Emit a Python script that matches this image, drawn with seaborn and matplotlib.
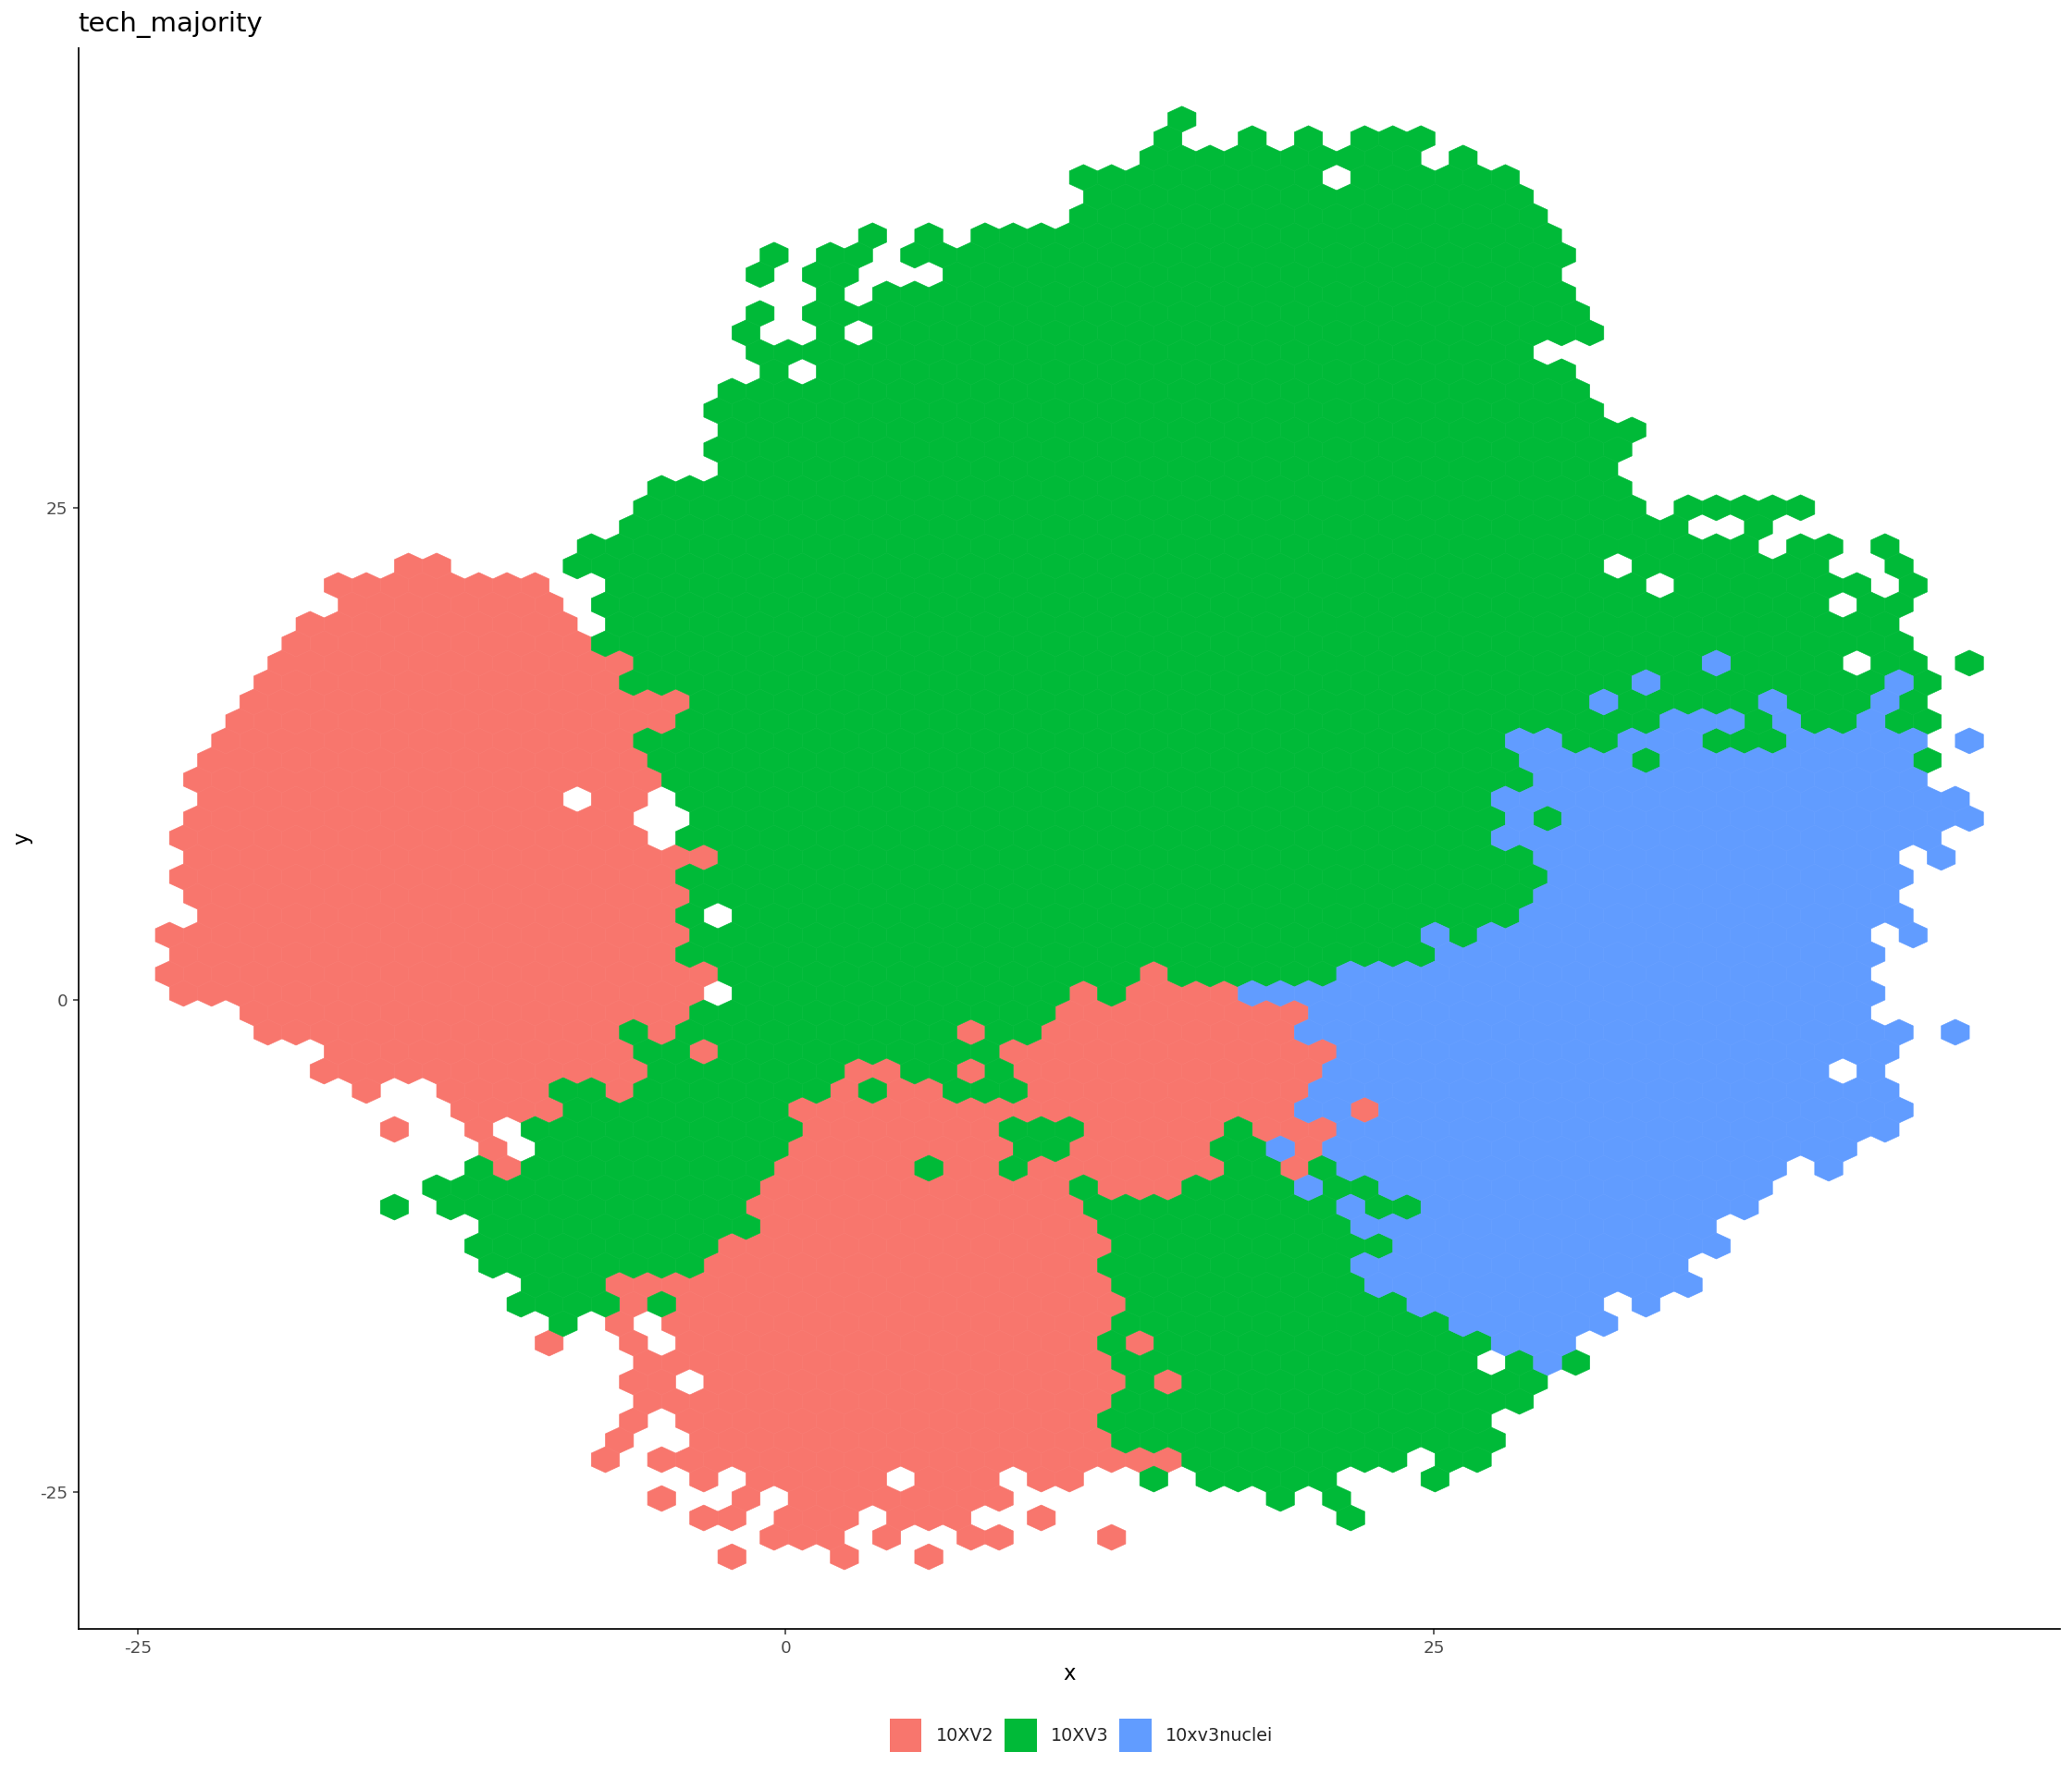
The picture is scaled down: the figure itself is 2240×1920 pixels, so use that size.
import numpy as np
import pandas as pd
import matplotlib
matplotlib.use("Agg")
import matplotlib.pyplot as plt
from matplotlib.patches import Patch
from matplotlib.path import Path
import seaborn as sns

TITLE = "tech_majority"
CATEGORIES = ["10XV2", "10XV3", "10xv3nuclei"]
COLORS = ["#F8766D", "#00BA38", "#619CFF"]
TICKS = [-25, 0, 25]

# occupied hexagon bins: row index -> column runs (first, last)
RUNS_V2 = {
    23: [(9, 10)], 24: [(7, 14)], 25: [(7, 14)], 26: [(6, 15)], 27: [(5, 15)], 28: [(5, 17)],
    29: [(4, 16)], 30: [(4, 19)], 31: [(3, 18)], 32: [(3, 17)], 33: [(2, 17)], 34: [(2, 18)],
    35: [(2, 14), (16, 17)], 36: [(2, 17)], 37: [(1, 17)], 38: [(2, 20)], 39: [(1, 18)],
    40: [(2, 19)], 41: [(2, 18)], 42: [(1, 19)], 43: [(1, 18)], 44: [(1, 20), (36, 36)],
    45: [(1, 19), (33, 33), (35, 38)], 46: [(4, 19), (33, 41)],
    47: [(4, 16), (18, 18), (29, 29), (32, 40)], 48: [(7, 17), (20, 20), (31, 42)],
    49: [(6, 17), (25, 26), (29, 29), (31, 41)],
    50: [(8, 8), (11, 14), (17, 17), (25, 25), (27, 28), (32, 41)],
    51: [(11, 14), (23, 40), (43, 43)],
    52: [(9, 9), (12, 12), (24, 30), (34, 38), (40, 42)],
    53: [(12, 12), (23, 30), (33, 37), (41, 41)],
    54: [(13, 13), (23, 27), (29, 30), (32, 38), (41, 41)],
    55: [(22, 32), (34, 36)], 56: [(22, 33)], 57: [(22, 33)], 58: [(21, 34)], 59: [(20, 33)],
    60: [(17, 34)], 61: [(17, 17), (19, 34)], 62: [(17, 17), (19, 34)],
    63: [(14, 14), (17, 17), (19, 33), (35, 35)], 64: [(18, 34)],
    65: [(17, 18), (20, 34), (36, 36)], 66: [(18, 34)], 67: [(17, 17), (19, 33)],
    68: [(17, 17), (20, 34)], 69: [(16, 16), (18, 36)],
    70: [(20, 20), (22, 26), (28, 30), (32, 33)], 71: [(18, 18), (21, 21), (23, 30)],
    72: [(20, 21), (23, 25), (27, 29), (32, 32)], 73: [(22, 24), (26, 26), (29, 30), (34, 34)],
    74: [(21, 21), (25, 25), (28, 28)],
}
RUNS_V3 = {
    0: [(37, 37)], 1: [(36, 36), (39, 39), (41, 41), (43, 45)], 2: [(36, 45), (47, 47)],
    3: [(33, 41), (43, 48)], 4: [(34, 49)], 5: [(33, 49)], 6: [(26, 26), (28, 28), (30, 50)],
    7: [(22, 22), (24, 25), (27, 50)], 8: [(22, 22), (24, 25), (29, 50)], 9: [(24, 24), (26, 50)],
    10: [(22, 22), (24, 51)], 11: [(21, 21), (24, 24), (26, 51)], 12: [(22, 49)],
    13: [(22, 22), (24, 50)], 14: [(21, 51)], 15: [(20, 51)], 16: [(21, 53)], 17: [(20, 52)],
    18: [(21, 52)], 19: [(18, 52)], 20: [(18, 53), (55, 59)], 21: [(17, 54), (57, 57)],
    22: [(16, 57), (59, 60), (62, 62)], 23: [(15, 51), (53, 59), (62, 62)],
    24: [(17, 53), (55, 61), (63, 63)], 25: [(16, 59), (61, 62)], 26: [(17, 62)], 27: [(16, 62)],
    28: [(18, 55), (57, 60), (62, 63), (65, 65)], 29: [(17, 52), (54, 61), (63, 63)],
    30: [(20, 51), (53, 57), (59, 61), (63, 63)], 31: [(19, 53), (57, 57), (59, 60), (62, 63)],
    32: [(18, 48), (51, 52), (56, 58)], 33: [(18, 48), (53, 53), (63, 63)], 34: [(19, 49)],
    35: [(19, 47)], 36: [(20, 48), (50, 50)], 37: [(19, 47)], 38: [(21, 49)], 39: [(19, 49)],
    40: [(20, 49)], 41: [(19, 19), (21, 48)], 42: [(20, 45), (47, 47)], 43: [(19, 45)],
    44: [(21, 35), (37, 42)], 45: [(21, 32), (34, 34)], 46: [(20, 32)],
    47: [(17, 17), (19, 28), (30, 31)], 48: [(18, 19), (21, 30)],
    49: [(18, 24), (27, 28), (30, 30)], 50: [(15, 16), (18, 24), (26, 26), (29, 31)],
    51: [(15, 22)], 52: [(14, 23), (31, 33), (39, 39)], 53: [(14, 22), (31, 32), (38, 39)],
    54: [(12, 12), (14, 22), (28, 28), (31, 31), (39, 40), (42, 42)],
    55: [(10, 21), (33, 33), (37, 40), (42, 43)], 56: [(9, 9), (11, 21), (34, 42), (44, 45)],
    57: [(12, 21), (34, 42)], 58: [(12, 20), (35, 44)], 59: [(12, 19), (34, 42)],
    60: [(14, 16), (35, 43)], 61: [(13, 16), (18, 18), (35, 44)], 62: [(15, 15), (35, 46)],
    63: [(34, 34), (36, 47)], 64: [(35, 47), (49, 49), (51, 51)], 65: [(35, 35), (37, 49)],
    66: [(35, 49)], 67: [(34, 47)], 68: [(35, 48)], 69: [(37, 44), (46, 47)],
    70: [(36, 36), (38, 42), (46, 46)], 71: [(40, 40), (42, 42)], 72: [(43, 43)],
}
RUNS_NUCLEI = {
    28: [(56, 56)], 29: [(53, 53), (62, 62)], 30: [(52, 52), (58, 58), (62, 62)],
    31: [(54, 56), (58, 58), (61, 61)], 32: [(49, 50), (53, 55), (59, 63), (65, 65)],
    33: [(49, 52), (54, 62)], 34: [(50, 63)], 35: [(48, 64)], 36: [(49, 49), (51, 65)],
    37: [(48, 63)], 38: [(50, 62), (64, 64)], 39: [(50, 62)], 40: [(50, 62)], 41: [(49, 62)],
    42: [(46, 46), (48, 61), (63, 63)], 43: [(46, 61)], 44: [(43, 61)], 45: [(39, 61)],
    46: [(42, 61)], 47: [(41, 62), (64, 64)], 48: [(43, 62)], 49: [(42, 59), (61, 61)],
    50: [(42, 62)], 51: [(41, 42), (44, 62)], 52: [(43, 62)], 53: [(40, 40), (42, 60)],
    54: [(43, 58), (60, 60)], 55: [(41, 41), (44, 57)], 56: [(43, 43), (46, 57)], 57: [(43, 55)],
    58: [(45, 56)], 59: [(43, 54)], 60: [(44, 55)], 61: [(45, 51), (53, 53)], 62: [(47, 52)],
    63: [(48, 50)], 64: [(50, 50)],
}

# hexagon bin geometry in data units
X_ORIGIN, X_STEP = -24.86, 1.085
Y_ORIGIN, Y_STEP = 44.72, 0.9864

W, H = 2240, 1920
DPI = 200
L_PX, R_PX, T_PX, B_PX = 84.7, 2227, 52, 1761.3
HEX_W_PX, HEX_PITCH_PX = 30.4, 21.0


def bins(runs, label):
    out = []
    for row, spans in runs.items():
        for first, last in spans:
            for col in range(first, last + 1):
                out.append((X_ORIGIN + X_STEP * (col + 0.5 * (row % 2)),
                            Y_ORIGIN - Y_STEP * row, label))
    return out


df = pd.DataFrame(
    bins(RUNS_V2, CATEGORIES[0]) + bins(RUNS_V3, CATEGORIES[1]) + bins(RUNS_NUCLEI, CATEGORIES[2]),
    columns=["x", "y", "tech"],
)

sns.set_theme(style="ticks")
plt.rcParams["font.family"] = ["DejaVu Sans"]

fig = plt.figure(figsize=(W / DPI, H / DPI), dpi=DPI, facecolor="white")
ax = fig.add_axes([L_PX / W, 1 - B_PX / H, (R_PX - L_PX) / W, (B_PX - T_PX) / H])

hw = HEX_W_PX / 2
hh = HEX_PITCH_PX * 2 / 3
hex_path = Path(
    [(0, hh), (hw, hh / 2), (hw, -hh / 2), (0, -hh), (-hw, -hh / 2), (-hw, hh / 2), (0, hh)],
    closed=True,
)
size = (HEX_W_PX * 72 / DPI) ** 2

sns.scatterplot(
    data=df, x="x", y="y", hue="tech", hue_order=CATEGORIES, palette=COLORS,
    marker=hex_path, s=size, linewidth=0.22, edgecolor="face", legend=False, ax=ax, zorder=2,
)

ax.set_xlim(-27.29, 49.16)
ax.set_ylim(-31.95, 48.33)
ax.set_xticks(TICKS)
ax.set_yticks(TICKS)
ax.set_xticklabels([str(t) for t in TICKS])
ax.set_yticklabels([str(t) for t in TICKS])
ax.tick_params(axis="both", length=2.2, width=0.55, color="#333333", labelcolor="#4D4D4D",
               labelsize=6.6, pad=1.9)
sns.despine(ax=ax)
for side in ("left", "bottom"):
    ax.spines[side].set_linewidth(0.62)
    ax.spines[side].set_color("black")

ax.set_xlabel("x", fontsize=8.2, color="black", labelpad=2.5)
ax.set_ylabel("y", fontsize=8.2, color="black", labelpad=2.9)
ax.set_title(TITLE, loc="left", fontsize=10.5, color="black", pad=6.5)

handles = [Patch(facecolor=c, edgecolor="none", label=n) for c, n in zip(COLORS, CATEGORIES)]
fig.legend(
    handles=handles, loc="center", bbox_to_anchor=(1169 / W, 1 - 1876 / H), ncol=3, frameon=False,
    fontsize=6.9, handlelength=1.82, handleheight=2.44, handletextpad=0.78, columnspacing=0.62,
    borderpad=0, borderaxespad=0,
)

fig.savefig("out.png", dpi=DPI, facecolor="white")
